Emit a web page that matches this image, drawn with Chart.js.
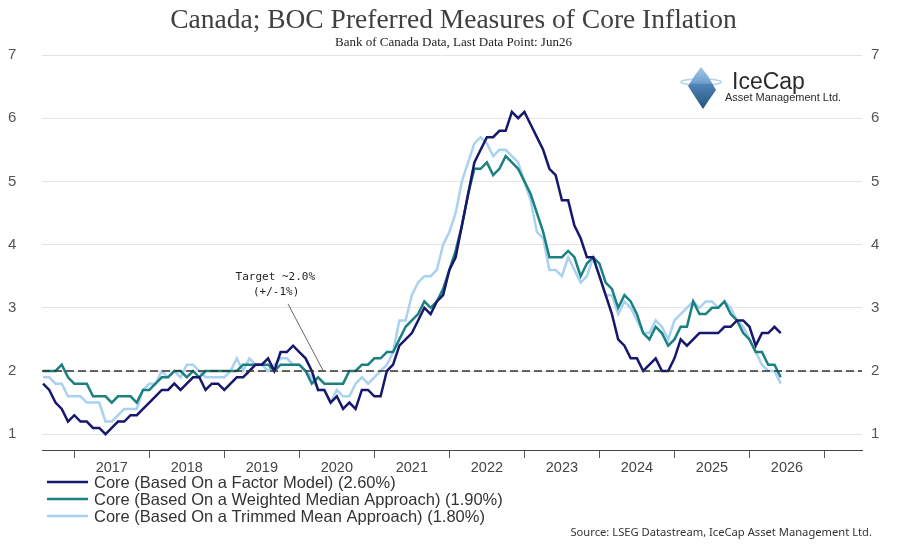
<!DOCTYPE html>
<html>
<head>
<meta charset="utf-8">
<title>Canada; BOC Preferred Measures of Core Inflation</title>
<script src="https://cdn.jsdelivr.net/npm/chart.js@4.4.1/dist/chart.umd.min.js"></script>
<style>
    html, body { margin: 0; padding: 0; background: #fff; }
    #wrap { width: 897px; height: 552px; }
</style>
</head>
<body>
<div id="wrap"><canvas id="core-inflation-chart" width="897" height="552"></canvas></div>
<script>
// Monthly y/y readings, Aug 2016 .. Jun 2026
const factorModel = [
    1.8, 1.7, 1.5, 1.4, 1.2, 1.3, 1.2, 1.2, 1.1, 1.1,
    1.0, 1.1, 1.2, 1.2, 1.3, 1.3, 1.4, 1.5, 1.6, 1.7,
    1.7, 1.8, 1.7, 1.8, 1.9, 1.9, 1.7, 1.8, 1.8, 1.7,
    1.8, 1.9, 1.9, 2.0, 2.1, 2.1, 2.2, 2.0, 2.3, 2.3,
    2.4, 2.3, 2.2, 2.0, 1.7, 1.7, 1.5, 1.6, 1.4, 1.5,
    1.4, 1.7, 1.7, 1.6, 1.6, 2.0, 2.1, 2.4, 2.5, 2.6,
    2.8, 3.0, 2.9, 3.1, 3.2, 3.6, 3.8, 4.3, 4.8, 5.3,
    5.5, 5.7, 5.7, 5.8, 5.8, 6.1, 6.0, 6.1, 5.9, 5.7,
    5.5, 5.2, 5.1, 4.7, 4.7, 4.3, 4.1, 3.8, 3.8, 3.5,
    3.2, 2.9, 2.5, 2.4, 2.2, 2.2, 2.0, 2.1, 2.2, 2.0,
    2.0, 2.2, 2.5, 2.4, 2.5, 2.6, 2.6, 2.6, 2.6, 2.7,
    2.7, 2.8, 2.8, 2.7, 2.4, 2.6, 2.6, 2.7, 2.6
];
const weightedMedian = [
    2.0, 2.0, 2.0, 2.1, 1.9, 1.8, 1.8, 1.8, 1.6, 1.6,
    1.6, 1.5, 1.6, 1.6, 1.6, 1.5, 1.7, 1.7, 1.8, 1.9,
    1.9, 2.0, 2.0, 1.9, 2.0, 1.9, 2.0, 2.0, 2.0, 2.0,
    2.0, 2.0, 2.1, 2.1, 2.1, 2.1, 2.1, 2.0, 2.1, 2.1,
    2.1, 2.1, 2.0, 1.8, 1.9, 1.8, 1.8, 1.8, 1.8, 2.0,
    2.0, 2.1, 2.1, 2.2, 2.2, 2.3, 2.3, 2.5, 2.7, 2.8,
    2.9, 3.1, 3.0, 3.1, 3.3, 3.6, 3.9, 4.3, 4.8, 5.2,
    5.2, 5.3, 5.1, 5.2, 5.4, 5.3, 5.2, 5.0, 4.8, 4.5,
    4.2, 3.8, 3.8, 3.8, 3.9, 3.8, 3.5, 3.7, 3.8, 3.7,
    3.4, 3.3, 3.0, 3.2, 3.1, 2.9, 2.6, 2.5, 2.7, 2.6,
    2.4, 2.5, 2.7, 2.7, 3.1, 2.9, 2.9, 3.0, 3.0, 3.1,
    2.9, 2.8, 2.6, 2.5, 2.3, 2.3, 2.1, 2.1, 1.9
];
const trimmedMean = [
    1.9, 1.9, 1.8, 1.8, 1.6, 1.6, 1.6, 1.5, 1.5, 1.5,
    1.2, 1.2, 1.3, 1.4, 1.4, 1.4, 1.7, 1.8, 1.8, 2.0,
    1.9, 2.0, 1.9, 2.1, 2.1, 2.0, 1.9, 1.9, 1.9, 1.9,
    2.0, 2.2, 2.0, 2.2, 2.1, 2.1, 2.0, 2.1, 2.2, 2.2,
    2.1, 2.1, 2.0, 1.9, 1.7, 1.7, 1.5, 1.7, 1.6, 1.6,
    1.8, 1.9, 1.8, 1.9, 2.0, 2.1, 2.3, 2.8, 2.8, 3.2,
    3.4, 3.5, 3.5, 3.6, 4.0, 4.2, 4.5, 5.0, 5.3, 5.6,
    5.7, 5.6, 5.4, 5.5, 5.5, 5.4, 5.3, 5.0, 4.7, 4.2,
    4.1, 3.6, 3.6, 3.5, 3.8, 3.6, 3.4, 3.5, 3.8, 3.5,
    3.2, 3.2, 2.9, 3.1, 3.0, 2.8, 2.6, 2.6, 2.8, 2.7,
    2.5, 2.8, 2.9, 3.0, 3.1, 3.0, 3.1, 3.1, 3.0, 3.1,
    3.0, 2.8, 2.7, 2.5, 2.3, 2.1, 2.0, 2.0, 1.8
];

const seriesNames = [
    'Core (Based On a Factor Model)',
    'Core (Based On a Weighted Median Approach)',
    'Core (Based On a Trimmed Mean Approach)'
];
const seriesColors = ['#17176e', '#1a8080', '#a9d1f2'];

const yearLabels = ['2017', '2018', '2019', '2020', '2021', '2022', '2023', '2024', '2025', '2026'];
const yTickValues = [1, 2, 3, 4, 5, 6, 7];
const targetRate = 2.0;

// first observation is Aug 2016
const firstYear = 2016;
const firstMonth = 8;
const monthPositions = factorModel.map((v, i) => firstYear + (firstMonth - 1 + i) / 12);

const xMin = 2016.57;
const xMax = 2027.5;

// target callout, in data units
const targetNote = {
    lines: ['Target ~2.0%', '(+/-1%)'],
    textAt: [{ x: 2019.68, y: 3.49 }, { x: 2019.69, y: 3.24 }],
    lineFrom: { x: 2019.85, y: 3.06 },
    lineTo: { x: 2020.32, y: 2.0 }
};

// Title, target line, callout, logo, legend and source note
const decorPlugin = {
    id: 'decor',
    afterDatasetsDraw(chart) {
        const ctx = chart.ctx;
        const area = chart.chartArea;
        const xs = chart.scales.x;
        const ys = chart.scales.y;

        // dashed 2% target line
        const ty = ys.getPixelForValue(targetRate);
        ctx.save();
        ctx.strokeStyle = '#333';
        ctx.lineWidth = 1.3;
        ctx.setLineDash([8, 4]);
        ctx.beginPath();
        ctx.moveTo(area.left, ty);
        ctx.lineTo(area.right, ty);
        ctx.stroke();
        ctx.restore();

        // callout
        ctx.save();
        ctx.strokeStyle = '#555';
        ctx.lineWidth = 0.9;
        ctx.beginPath();
        ctx.moveTo(xs.getPixelForValue(targetNote.lineFrom.x), ys.getPixelForValue(targetNote.lineFrom.y));
        ctx.lineTo(xs.getPixelForValue(targetNote.lineTo.x), ys.getPixelForValue(targetNote.lineTo.y));
        ctx.stroke();
        ctx.fillStyle = '#222';
        ctx.font = '11px "DejaVu Sans Mono"';
        ctx.textAlign = 'center';
        ctx.textBaseline = 'middle';
        targetNote.lines.forEach((txt, i) => {
            const p = targetNote.textAt[i];
            ctx.fillText(txt, xs.getPixelForValue(p.x), ys.getPixelForValue(p.y));
        });
        ctx.restore();
    },
    afterDraw(chart) {
        const ctx = chart.ctx;
        const w = chart.width;

        // titles
        ctx.save();
        ctx.textAlign = 'center';
        ctx.textBaseline = 'alphabetic';
        ctx.fillStyle = '#404040';
        ctx.font = '27.5px "Liberation Serif"';
        ctx.fillText('Canada; BOC Preferred Measures of Core Inflation', w / 2 + 5, 28);
        ctx.fillStyle = '#222';
        ctx.font = '13px "Liberation Serif"';
        ctx.fillText('Bank of Canada Data, Last Data Point: Jun26', w / 2 + 5, 46);
        ctx.restore();

        // IceCap logo
        ctx.save();
        ctx.strokeStyle = '#b3d3ec';
        ctx.lineWidth = 1.5;
        ctx.beginPath();
        ctx.ellipse(701, 82, 20, 3, 0, 0, Math.PI * 2);
        ctx.stroke();
        const grad = ctx.createLinearGradient(0, 67, 0, 109);
        grad.addColorStop(0, '#a3c8e6');
        grad.addColorStop(0.38, '#6fa0cc');
        grad.addColorStop(0.42, '#4f84b5');
        grad.addColorStop(1, '#24527f');
        ctx.fillStyle = grad;
        ctx.beginPath();
        ctx.moveTo(701, 67);
        ctx.lineTo(708, 76);
        ctx.lineTo(716, 90);
        ctx.lineTo(709, 100);
        ctx.lineTo(703, 109);
        ctx.lineTo(697, 100);
        ctx.lineTo(688, 86);
        ctx.lineTo(695, 75);
        ctx.closePath();
        ctx.fill();
        ctx.fillStyle = '#2a2a2a';
        ctx.textAlign = 'left';
        ctx.font = '23px "Liberation Sans"';
        ctx.fillText('IceCap', 732, 89);
        ctx.font = '11px "Liberation Sans"';
        ctx.fillText('Asset Management Ltd.', 725, 101);
        ctx.restore();

        // legend, one series per row
        ctx.save();
        ctx.textAlign = 'left';
        ctx.textBaseline = 'middle';
        ctx.font = '16.5px "Liberation Sans"';
        chart.data.datasets.forEach((ds, i) => {
            const y = 482 + i * 17;
            const last = ds.data[ds.data.length - 1];
            ctx.strokeStyle = ds.borderColor;
            ctx.lineWidth = 2.5;
            ctx.beginPath();
            ctx.moveTo(47, y);
            ctx.lineTo(88, y);
            ctx.stroke();
            ctx.fillStyle = '#333';
            ctx.fillText(ds.label + ' (' + last.toFixed(2) + '%)', 94, y + 1);
        });

        // source note
        ctx.textAlign = 'right';
        ctx.font = '11.2px "Noto Sans"';
        ctx.fillStyle = '#333';
        ctx.fillText('Source: LSEG Datastream, IceCap Asset Management Ltd.', 872, 533);
        ctx.restore();
    }
};

const ctx = document.getElementById('core-inflation-chart');

new Chart(ctx, {
    type: 'line',
    data: {
        labels: monthPositions,
        datasets: [factorModel, weightedMedian, trimmedMean].map((values, i) => ({
            label: seriesNames[i],
            data: values,
            borderColor: seriesColors[i],
            backgroundColor: seriesColors[i],
            borderWidth: 2.5,
            pointRadius: 0,
            tension: 0,
            fill: false
        }))
    },
    options: {
        responsive: false,
        animation: false,
        events: [],
        layout: {
            padding: { top: 55, bottom: 74, left: 8, right: 0 }
        },
        scales: {
            x: {
                type: 'linear',
                position: 'bottom',
                min: xMin,
                max: xMax,
                afterBuildTicks: scale => {
                    const ticks = [];
                    yearLabels.forEach(y => {
                        ticks.push({ value: Number(y) });
                        ticks.push({ value: Number(y) + 0.5 });
                    });
                    ticks.push({ value: Number(yearLabels[yearLabels.length - 1]) + 1 });
                    scale.ticks = ticks;
                },
                afterFit: scale => { scale.height = 28; },
                ticks: {
                    autoSkip: false,
                    maxRotation: 0,
                    padding: 1,
                    color: '#444',
                    font: { family: 'Liberation Sans', size: 14.5 },
                    callback: value => Number.isInteger(value) ? '' : yearLabels[Math.floor(value) - Number(yearLabels[0])]
                },
                grid: {
                    drawOnChartArea: false,
                    drawTicks: true,
                    tickLength: 8,
                    lineWidth: 1,
                    color: c => (c.tick && Number.isInteger(c.tick.value)) ? '#555' : 'rgba(0,0,0,0)'
                },
                border: { display: true, color: '#444', width: 1 }
            },
            y: {
                type: 'linear',
                position: 'left',
                min: 0.75,
                max: 7,
                afterBuildTicks: scale => { scale.ticks = yTickValues.map(v => ({ value: v })); },
                afterFit: scale => { scale.width = 34; },
                ticks: {
                    crossAlign: 'far',
                    color: '#555',
                    font: { family: 'Liberation Sans', size: 15 }
                },
                grid: { color: '#e4e4e4', lineWidth: 1, drawTicks: false },
                border: { display: false }
            },
            y2: {
                type: 'linear',
                position: 'right',
                min: 0.75,
                max: 7,
                afterBuildTicks: scale => { scale.ticks = yTickValues.map(v => ({ value: v })); },
                afterFit: scale => { scale.width = 35; },
                ticks: {
                    padding: 9,
                    color: '#555',
                    font: { family: 'Liberation Sans', size: 15 }
                },
                grid: { drawOnChartArea: false, drawTicks: false },
                border: { display: false }
            }
        },
        plugins: {
            legend: { display: false },
            tooltip: { enabled: false },
            title: { display: false }
        }
    },
    plugins: [decorPlugin]
});
</script>
</body>
</html>
